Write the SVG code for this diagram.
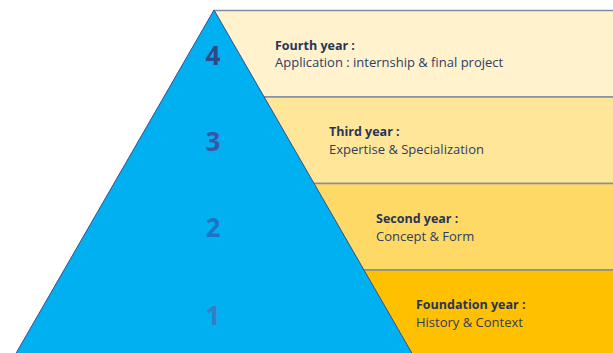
<svg xmlns="http://www.w3.org/2000/svg" width="613" height="353" viewBox="0 0 613 353">
<style>
.band{stroke:#7F8FA6;stroke-width:1.5}
.tri{fill:#00B0F0;stroke:#3B4E86;stroke-width:1}
.num{font-family:"Open Sans","Liberation Sans",sans-serif;font-weight:bold;font-size:26px;text-anchor:middle}
.t{font-family:"Open Sans","Liberation Sans",sans-serif;font-size:13px;fill:#2E3D63}
.b{font-weight:bold;font-size:12.5px;fill:#26355A}
</style>
<rect width="613" height="353" fill="#ffffff"/>
<g id="bands">
<g id="band4"><rect class="band" x="214" y="10.5" width="400" height="86.5" fill="#FFF2CC"/></g>
<g id="band3"><rect class="band" x="214" y="97" width="400" height="86.5" fill="#FFE699"/></g>
<g id="band2"><rect class="band" x="214" y="183.5" width="400" height="86.5" fill="#FFD966"/></g>
<g id="band1"><rect class="band" x="214" y="270" width="400" height="90" fill="#FFC000"/></g>
</g>
<g id="pyramid"><polygon class="tri" points="214,10 413,355 15,355"/></g>
<g id="connectors"></g>
<g id="n4"><text class="num" x="213" y="65" fill="#2E4A86">4</text>
<text class="t b" x="275" y="50">Fourth year :</text>
<text class="t" x="275" y="67">Application : internship &amp; final project</text></g>
<g id="n3"><text class="num" x="213" y="151" fill="#3A56A6">3</text>
<text class="t b" x="329" y="136">Third year :</text>
<text class="t" x="329" y="154">Expertise &amp; Specialization</text></g>
<g id="n2"><text class="num" x="213" y="237" fill="#1C74C6">2</text>
<text class="t b" x="376" y="223">Second year :</text>
<text class="t" x="376" y="241">Concept &amp; Form</text></g>
<g id="n1"><text class="num" x="213" y="325" fill="#3A7CC2">1</text>
<text class="t b" x="416" y="309">Foundation year :</text>
<text class="t" x="416" y="327">History &amp; Context</text></g>
</svg>
